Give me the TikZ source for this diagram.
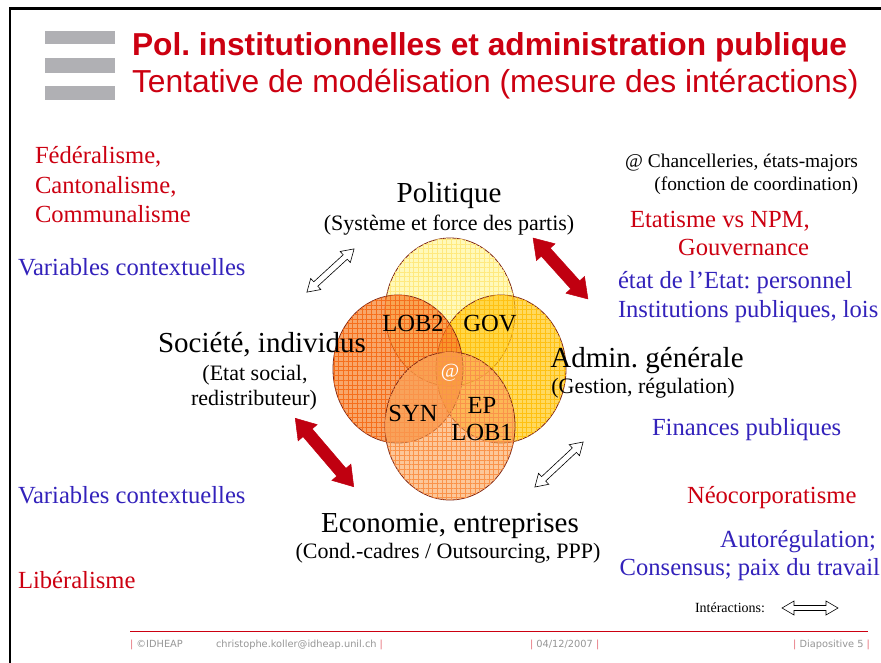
\documentclass[tikz,border=0pt]{standalone}
\usepackage{fontspec}
\setmainfont{Liberation Serif}
\newfontfamily\arialf{Liberation Sans}
\newfontfamily\footf{DejaVu Sans}
\usetikzlibrary{shapes.geometric,patterns.meta}
\frenchspacing
\definecolor{tred}{RGB}{204,0,17}
\definecolor{tblue}{RGB}{51,34,187}
\definecolor{bargray}{RGB}{176,176,180}
\definecolor{edgec}{RGB}{130,40,20}
\definecolor{polc}{RGB}{255,245,140}
\definecolor{admc}{RGB}{255,200,20}
\definecolor{socc}{RGB}{245,120,30}
\definecolor{ecoc}{RGB}{250,160,80}
\definecolor{arrred}{RGB}{192,0,16}
\definecolor{footgray}{RGB}{150,150,150}
\definecolor{footbar}{RGB}{230,110,120}
\newcommand\fs[1]{\fontsize{#1}{#1}\selectfont}
% style, x, y, angle, half length, half shaft, half head, head length
\newcommand\DArrow[8]{%
  \begin{scope}[shift={(#2,#3)},rotate=#4]
    \path[#1] (-#5,0) -- (-#5+#8,#7) -- (-#5+#8,#6) -- (#5-#8,#6) -- (#5-#8,#7) -- (#5,0)
      -- (#5-#8,-#7) -- (#5-#8,-#6) -- (-#5+#8,-#6) -- (-#5+#8,-#7) -- cycle;
  \end{scope}}
\begin{document}
\begin{tikzpicture}[x=1pt,y=-1pt,
  txt/.style={inner sep=0pt,outer sep=0pt},
  lw/.style={txt,anchor=base west},
  le/.style={txt,anchor=base east},
  lc/.style={txt,anchor=base},
  big/.style={font=\fs{29}},
  sub/.style={font=\fs{22}},
  colt/.style={font=\fs{24.6}},
  redt/.style={colt,text=tred},
  bluet/.style={colt,text=tblue},
  venn/.style={ellipse,minimum width=130pt,minimum height=148pt,inner sep=0pt,draw=edgec,line width=0.8pt},
  grid/.style={postaction={pattern={Hatch[distance=4.7pt,angle=0,line width=0.25pt]},pattern color=#1}},
  redarr/.style={fill=arrred,draw=arrred,line width=0.5pt,line join=miter},
  hollowarr/.style={fill=white,draw=black,line width=0.6pt,line join=miter},
  foot/.style={txt,font=\footf\fs{9.8},text=footgray}]
\useasboundingbox (0,0) rectangle (881,662);
\fill[white] (0,0) rectangle (881,662);
% slide frame
\draw[line width=2.5pt] (10,700) -- (10,8.5) -- (900,8.5);
% title bars
\fill[bargray] (45,31) rectangle (115,44);
\fill[bargray] (45,58) rectangle (115,72.5);
\fill[bargray] (45,86) rectangle (115,100);
\node[lw,font=\arialf\bfseries\fs{31.7},text=tred] (t1) at (132,55) {Pol. institutionnelles et administration publique};
\node[lw,font=\arialf\fs{31.8},text=tred] (t2) at (132,92) {Tentative de modélisation (mesure des intéractions)};
% Venn ellipses
\node[venn,fill=polc,fill opacity=0.6,grid=polc!90!orange] (pol) at (450,312) {};
\node[venn,fill=admc,fill opacity=0.68,grid=admc!90!orange] (adm) at (501,369) {};
\node[venn,fill=socc,fill opacity=0.66,grid=socc!92!red] (soc) at (398,369) {};
\node[venn,fill=ecoc,fill opacity=0.58,grid=ecoc!92!red] (eco) at (450,426) {};
\node[lc,colt] (lob2) at (413,331) {LOB2};
\node[lc,colt] (gov) at (490,331) {GOV};
\node[lc,colt] (syn) at (413,421) {SYN};
\node[lc,colt] (ep) at (482,413) {EP};
\node[lc,colt] (lob1) at (482,440) {LOB1};
\node[lc,font=\fs{20},text=white] (at) at (450,377) {@};
% main labels
\node[lc,big] (politique) at (449,202) {Politique};
\node[lc,sub] (politsub) at (449,230) {(Système et force des partis)};
\node[lc,big] (societe) at (262,352) {Société, individus};
\node[lc,sub] (soc1) at (255,380) {(Etat social,};
\node[lc,sub] (soc2) at (254,405) {redistributeur)};
\node[lc,big] (admin) at (647,367) {Admin. générale};
\node[lc,sub] (adminsub) at (643,393) {(Gestion, régulation)};
\node[lc,big] (economie) at (450,532) {Economie, entreprises};
\node[lc,sub] (ecosub) at (448,558) {(Cond.-cadres / Outsourcing, PPP)};
% left side
\node[lw,redt] (fed) at (35,163) {Fédéralisme,};
\node[lw,redt] (can) at (35,193) {Cantonalisme,};
\node[lw,redt] (com) at (35,222) {Communalisme};
\node[lw,bluet] (var1) at (18,275) {Variables contextuelles};
\node[lw,bluet] (var2) at (18,503) {Variables contextuelles};
\node[lw,redt] (lib) at (18,588) {Libéralisme};
% right side
\node[le,font=\fs{19.4}] (chan) at (858,167) {@ Chancelleries, états-majors};
\node[le,font=\fs{19.4}] (fonc) at (858,190) {(fonction de coordination)};
\node[lw,redt] (etat) at (630,227) {Etatisme vs NPM,};
\node[lw,redt] (gouv) at (678,255) {Gouvernance};
\node[lw,bluet] (pers) at (618,288) {état de l’Etat: personnel};
\node[lw,bluet] (inst) at (618,317) {Institutions publiques, lois};
\node[lw,bluet] (fin) at (652,435) {Finances publiques};
\node[lw,redt] (neo) at (687,503) {Néocorporatisme};
\node[le,bluet] (auto) at (876,547) {Autorégulation;};
\node[le,bluet] (cons) at (880,575) {Consensus; paix du travail};
\node[lw,font=\fs{14}] (inter) at (695,612) {Intéractions:};
% interaction arrows
\DArrow{hollowarr}{330.5}{270.5}{42.5}{32}{3}{7.5}{12}
\DArrow{redarr}{560.5}{268.5}{-48}{41}{6}{12.5}{19}
\DArrow{redarr}{324.5}{452.5}{-49.5}{45}{6}{12.5}{19}
\DArrow{hollowarr}{559}{464.5}{43}{33}{3}{7.5}{12}
\DArrow{hollowarr}{810}{608}{0}{28}{2.5}{7}{12}
% footer
\draw[tred,line width=1.2pt] (130,631.5) -- (868,631.5);
\node[foot,anchor=base west] (f1) at (130,647) {\textcolor{footbar}{|} ©IDHEAP};
\node[foot,anchor=base west] (f2) at (216,647) {christophe.koller@idheap.unil.ch \textcolor{footbar}{|}};
\node[foot,anchor=base west] (f3) at (530,647) {\textcolor{footbar}{|} 04/12/2007 \textcolor{footbar}{|}};
\node[foot,anchor=base east] (f4) at (870,647) {\textcolor{footbar}{|} Diapositive 5 \textcolor{footbar}{|}};
\end{tikzpicture}
\end{document}
